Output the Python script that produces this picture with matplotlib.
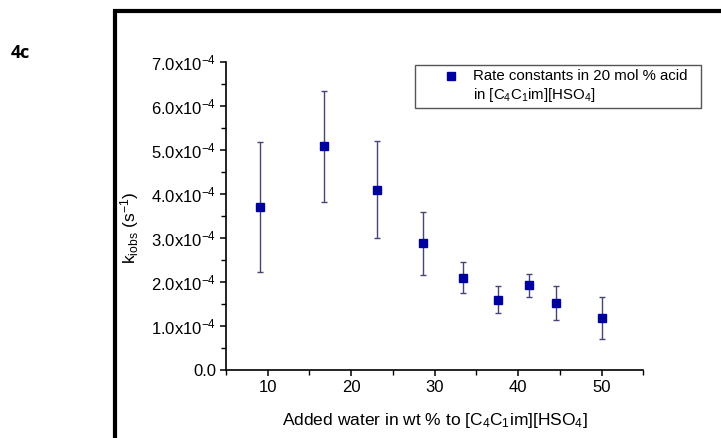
import matplotlib
matplotlib.use("Agg")
import matplotlib.pyplot as plt
from matplotlib.patches import Rectangle
from matplotlib.lines import Line2D
from matplotlib.ticker import FixedLocator, MultipleLocator

plt.rcParams["font.family"] = ["Liberation Sans", "DejaVu Sans"]
plt.rcParams["mathtext.default"] = "regular"

# Added water (wt %) and observed rate constants (s^-1)
water_wt = [9.1, 16.75, 23.15, 28.6, 33.35, 37.55, 41.3, 44.5, 50.05]
k_obs = [3.70e-4, 5.08e-4, 4.10e-4, 2.88e-4, 2.10e-4, 1.59e-4, 1.93e-4, 1.52e-4, 1.19e-4]
k_upper = [5.18e-4, 6.33e-4, 5.20e-4, 3.58e-4, 2.46e-4, 1.90e-4, 2.19e-4, 1.90e-4, 1.67e-4]
k_lower = [2.23e-4, 3.81e-4, 2.99e-4, 2.17e-4, 1.74e-4, 1.29e-4, 1.65e-4, 1.13e-4, 0.70e-4]

y_ticks = [0.0, 1e-4, 2e-4, 3e-4, 4e-4, 5e-4, 6e-4, 7e-4]
y_tick_labels = ["0.0"] + [f"{m:.1f}x10$^{{-4}}$" for m in range(1, 8)]
x_ticks = [10, 20, 30, 40, 50]

err_lo = [k - lo for k, lo in zip(k_obs, k_lower)]
err_hi = [hi - k for k, hi in zip(k_obs, k_upper)]

fig = plt.figure(figsize=(7.21, 4.38), dpi=100)
ax = fig.add_axes([226 / 721, 1 - 370 / 438, (643.3 - 226) / 721, (370 - 62) / 438])

ax.errorbar(water_wt, k_obs, yerr=[err_lo, err_hi], fmt="none",
            ecolor="#45457a", elinewidth=1.0, capsize=2.3, capthick=1.0, zorder=2)
ax.plot(water_wt, k_obs, ls="none", marker="s", ms=6, color="#0000a0",
        mec="#0000a0", zorder=3)

ax.set_xlim(5, 55)
ax.set_ylim(0, 7e-4)
ax.yaxis.set_major_locator(FixedLocator(y_ticks))
ax.set_yticklabels(y_tick_labels)
ax.yaxis.set_minor_locator(MultipleLocator(0.5e-4))
ax.xaxis.set_major_locator(FixedLocator(x_ticks))
ax.xaxis.set_minor_locator(MultipleLocator(5))

for side in ("top", "right"):
    ax.spines[side].set_visible(False)
for side in ("left", "bottom"):
    ax.spines[side].set_linewidth(1.2)
ax.tick_params(which="major", direction="out", length=4.5, width=1.1,
               labelsize=12, pad=2.5)
ax.tick_params(which="minor", direction="out", length=3.5, width=1.0)

ax.set_xlabel("Added water in wt % to [C$_4$C$_1$im][HSO$_4$]", fontsize=12.5)
ax.xaxis.set_label_coords(0.5, -0.133)
ax.set_ylabel("k$_{iobs}$ (s$^{-1}$)", fontsize=12.5)
ax.yaxis.set_label_coords(-0.203, 0.46)

# Legend box
fig.add_artist(Rectangle((415 / 721, 1 - 107.7 / 438), (700.7 - 415) / 721,
                         (107.7 - 65) / 438, transform=fig.transFigure,
                         fill=False, ec="#555555", lw=1.0))
fig.add_artist(Line2D([450.7 / 721], [1 - 76 / 438], transform=fig.transFigure,
                      ls="none", marker="s", ms=6, color="#0000a0"))
fig.text(472.7 / 721, 1 - 76.5 / 438, "Rate constants in 20 mol % acid",
         fontsize=10.8, va="center", ha="left")
fig.text(472.7 / 721, 1 - 95 / 438, "in [C$_4$C$_1$im][HSO$_4$]",
         fontsize=10.8, va="center", ha="left")

# Panel frame and tag
fig.add_artist(Line2D([115 / 721, 115 / 721, 1.0], [0.0, 1 - 11 / 438, 1 - 11 / 438],
                      transform=fig.transFigure, color="black", lw=3.0,
                      solid_joinstyle="miter"))
fig.text(11 / 721, 1 - 53 / 438, "4c", fontsize=13, fontweight="bold",
         va="center", ha="left", family=["Open Sans", "DejaVu Sans"])

fig.savefig("out.png", dpi=100)
